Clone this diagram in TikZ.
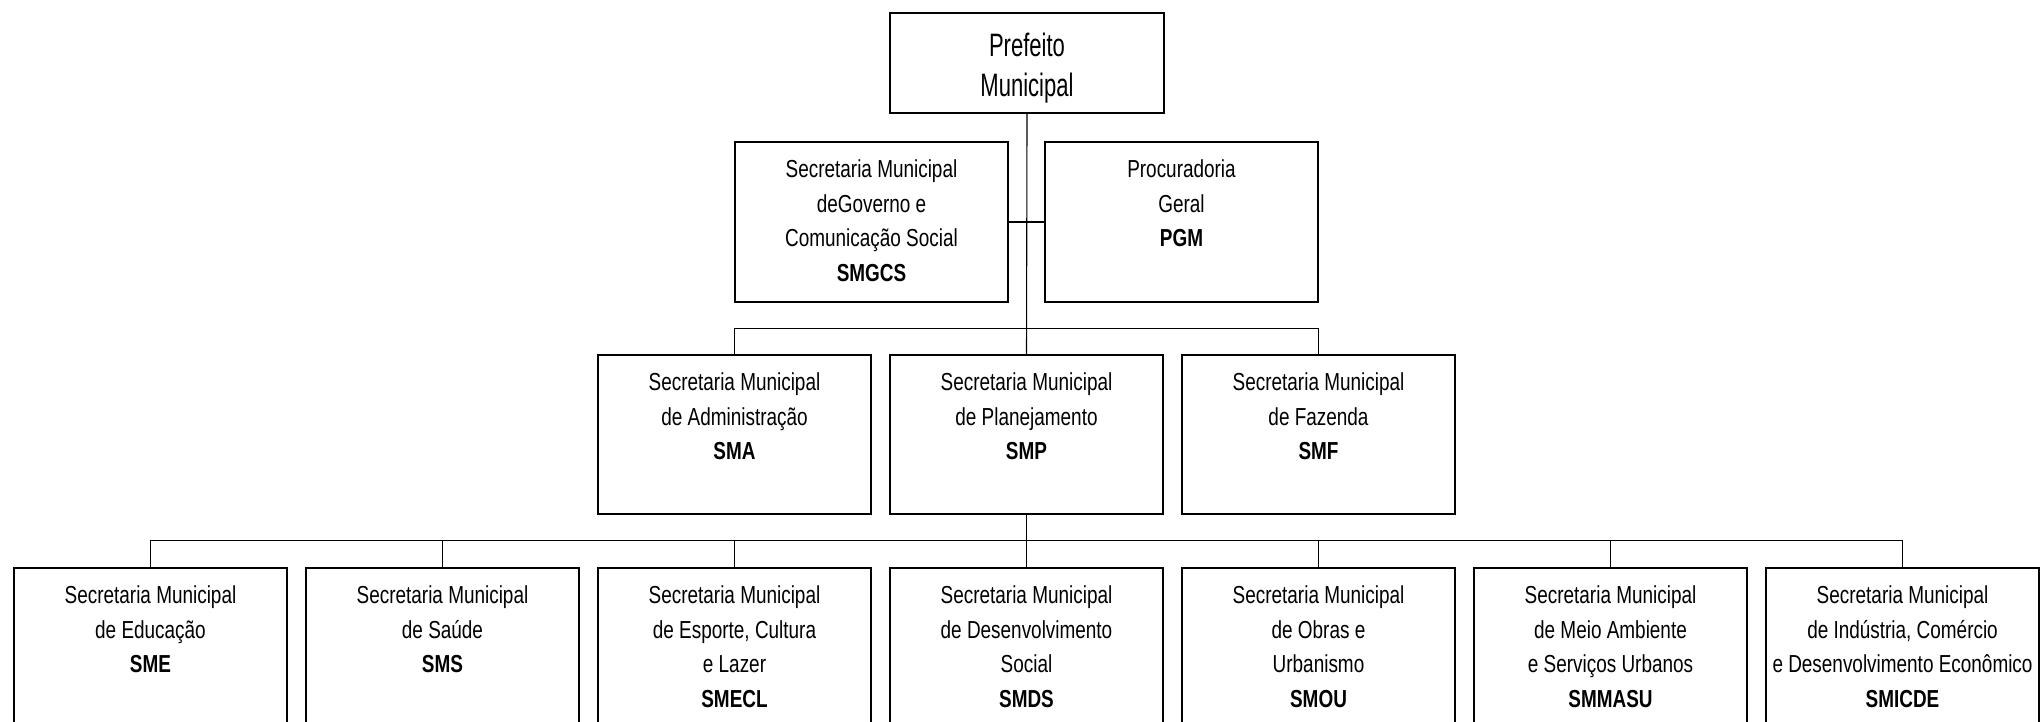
\documentclass[tikz,border=0pt]{standalone}
\usepackage{fontspec}
\setmainfont{Liberation Sans}[FakeStretch=0.77]
\newfontfamily\pfont{Liberation Sans}[FakeStretch=0.68]
\newcommand{\btxt}[1]{\parbox[t]{135pt}{\centering\fontsize{12.3pt}{17.25pt}\selectfont #1}}
\newcommand{\ptxt}[1]{\parbox[t]{135pt}{\centering\pfont\fontsize{16.2pt}{19.85pt}\selectfont #1}}
\begin{document}
\begin{tikzpicture}[x=0.5pt,y=-0.5pt,
  orgbox/.style={draw, line width=0.85pt, inner sep=0pt, minimum width=136.5pt, minimum height=80pt},
  topbox/.style={orgbox, minimum width=137pt, minimum height=50pt},
  txt/.style={inner sep=0pt, anchor=base},
  conn/.style={line width=0.55pt}]
\clip (0,0) rectangle (2043,722);
\fill[white] (0,0) rectangle (2043,722);
% top
\node[topbox] (pm) at (1027,63) {};
\node[txt] (pmt) at ([yshift=-22.1pt]pm.north) {\ptxt{Prefeito\\Municipal}};
% level 1.5
\node[orgbox] (smgcs) at (871.5,222) {};
\node[orgbox] (pgm) at (1181.5,222) {};
\node[txt] (smgcst) at ([yshift=-18.25pt]smgcs.north) {\btxt{Secretaria Municipal\\deGoverno e\\Comunicação Social\\\textbf{SMGCS}}};
\node[txt] (pgmt) at ([yshift=-18.25pt]pgm.north) {\btxt{Procuradoria\\Geral\\\textbf{PGM}}};
% level 2
\node[orgbox, minimum height=79.5pt] (sma) at (734.5,434.5) {};
\node[orgbox, minimum height=79.5pt] (smp) at (1026.5,434.5) {};
\node[orgbox, minimum height=79.5pt] (smf) at (1318.5,434.5) {};
\node[txt] (smat) at ([yshift=-18.25pt]sma.north) {\btxt{Secretaria Municipal\\de Administração\\\textbf{SMA}}};
\node[txt] (smpt) at ([yshift=-18.25pt]smp.north) {\btxt{Secretaria Municipal\\de Planejamento\\\textbf{SMP}}};
\node[txt] (smft) at ([yshift=-18.25pt]smf.north) {\btxt{Secretaria Municipal\\de Fazenda\\\textbf{SMF}}};
% level 3
\node[orgbox] (sme) at (150.5,648) {};
\node[orgbox] (sms) at (442.5,648) {};
\node[orgbox] (smecl) at (734.5,648) {};
\node[orgbox] (smds) at (1026.5,648) {};
\node[orgbox] (smou) at (1318.5,648) {};
\node[orgbox] (smmasu) at (1610.5,648) {};
\node[orgbox] (smicde) at (1902.5,648) {};
\node[txt] (smet) at ([yshift=-18.25pt]sme.north) {\btxt{Secretaria Municipal\\de Educação\\\textbf{SME}}};
\node[txt] (smst) at ([yshift=-18.25pt]sms.north) {\btxt{Secretaria Municipal\\de Saúde\\\textbf{SMS}}};
\node[txt] (smeclt) at ([yshift=-18.25pt]smecl.north) {\btxt{Secretaria Municipal\\de Esporte, Cultura\\e Lazer\\\textbf{SMECL}}};
\node[txt] (smdst) at ([yshift=-18.25pt]smds.north) {\btxt{Secretaria Municipal\\de Desenvolvimento\\Social\\\textbf{SMDS}}};
\node[txt] (smout) at ([yshift=-18.25pt]smou.north) {\btxt{Secretaria Municipal\\de Obras e\\Urbanismo\\\textbf{SMOU}}};
\node[txt] (smmasut) at ([yshift=-18.25pt]smmasu.north) {\btxt{Secretaria Municipal\\de Meio Ambiente\\e Serviços Urbanos\\\textbf{SMMASU}}};
\node[txt] (smicdet) at ([yshift=-18.25pt]smicde.north) {\btxt{Secretaria Municipal\\de Indústria, Comércio\\e Desenvolvimento Econômico\\\textbf{SMICDE}}};
% connectors
\coordinate (b2) at (1026.5,328.3);
\coordinate (b3) at (1026.5,540.7);
\draw[conn] (pm.south) -- (smp.north);
\draw[conn] (smgcs.east) -- (pgm.west);
\draw[conn] (sma.north) |- (b2) -| (smf.north);
\draw[conn] (smp.south) -- (b3);
\draw[conn] (sme.north) |- (b3) -| (smicde.north);
\draw[conn] (sms.north) -- (sms.north |- b3);
\draw[conn] (smecl.north) -- (smecl.north |- b3);
\draw[conn] (smds.north) -- (smds.north |- b3);
\draw[conn] (smou.north) -- (smou.north |- b3);
\draw[conn] (smmasu.north) -- (smmasu.north |- b3);
\end{tikzpicture}
\end{document}
